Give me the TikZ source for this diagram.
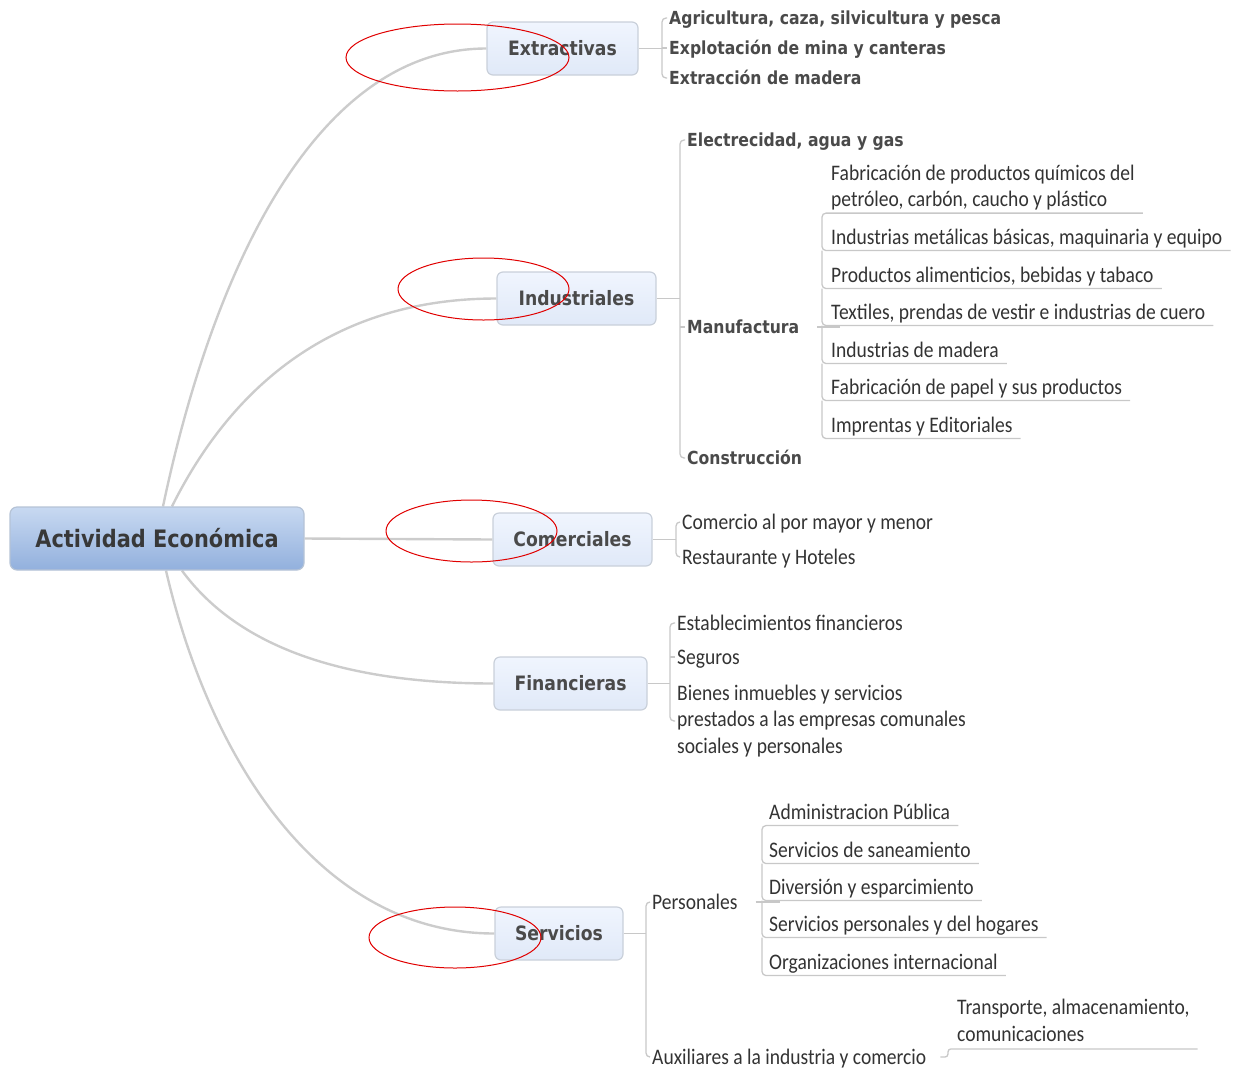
\documentclass[tikz,border=0pt]{standalone}
\usepackage{fontspec}
\setmainfont{Carlito}
\newfontfamily\vfont[FakeStretch=0.87]{DejaVu Sans}
\newfontfamily\leaffont[FakeStretch=0.88]{Carlito}
\usetikzlibrary{backgrounds}
\definecolor{lineC}{HTML}{CCCCCC}
\definecolor{brC}{HTML}{C8C8C8}
\definecolor{topicTop}{HTML}{F0F5FE}
\definecolor{topicBot}{HTML}{E0E9F8}
\definecolor{topicBorder}{HTML}{C9D0DA}
\definecolor{rootTop}{HTML}{C8D9F1}
\definecolor{rootBot}{HTML}{92B0DD}
\definecolor{rootBorder}{HTML}{B5C3D6}
\definecolor{txtBold}{HTML}{4A4A4A}
\definecolor{txtRoot}{HTML}{383838}
\definecolor{txtLeaf}{HTML}{333333}
\definecolor{markRed}{HTML}{E00000}
\tikzset{
  rootbox/.style={draw=rootBorder, line width=1.2pt, rounded corners=7pt,
    top color=rootTop, bottom color=rootBot, minimum width=294pt, minimum height=63pt,
    inner sep=0pt, font=\vfont\bfseries\fontsize{24}{28}\selectfont, text=txtRoot},
  topicbox/.style={draw=topicBorder, line width=1.2pt, rounded corners=6pt,
    top color=topicTop, bottom color=topicBot, minimum height=53pt,
    inner sep=0pt, font=\vfont\bfseries\fontsize{19.8}{24}\selectfont, text=txtBold},
  sublbl/.style={anchor=west, inner sep=0pt, font=\vfont\bfseries\fontsize{18}{22}\selectfont,
    text=txtBold, text height=13.1pt, text depth=0pt},
  leaf/.style={anchor=west, inner sep=0pt, font=\leaffont\fontsize{22.2}{26.8}\selectfont,
    text=txtLeaf, text height=14.3pt, text depth=0pt},
  leafml/.style={anchor=west, inner sep=0pt, font=\leaffont\fontsize{22.2}{26.8}\selectfont,
    text=txtLeaf, align=left},
  conn/.style={draw=lineC, line width=2.4pt},
  br/.style={draw=brC, line width=1.3pt, rounded corners=4pt},
  redmark/.style={draw=markRed, line width=1pt}
}
\begin{document}
\begin{tikzpicture}[x=1pt,y=-1pt]
\useasboundingbox (0,0) rectangle (1234,1069);

% central and main topics
\node[rootbox] (root) at (157,538.5) {Actividad Económica};
\node[topicbox, minimum width=151pt] (ext) at (562.5,48.5) {Extractivas};
\node[topicbox, minimum width=159pt] (ind) at (576.5,298.5) {Industriales};
\node[topicbox, minimum width=159pt] (com) at (572.5,539.5) {Comerciales};
\node[topicbox, minimum width=153pt] (fin) at (570.5,683.5) {Financieras};
\node[topicbox, minimum width=128pt] (ser) at (559,933.5) {Servicios};

% Extractivas
\node[sublbl] (e1) at (669,18) {Agricultura, caza, silvicultura y pesca};
\node[sublbl] (e2) at (669,48) {Explotación de mina y canteras};
\node[sublbl] (e3) at (669,78) {Extracción de madera};

% Industriales
\node[sublbl] (i1) at (687,140) {Electrecidad, agua y gas};
\node[sublbl] (i2) at (687,327) {Manufactura};
\node[sublbl] (i3) at (687,458) {Construcción};

\node[leafml] (m1) at (831,187.5) {Fabricación de productos químicos del\\petróleo, carbón, caucho y plástico};
\node[leaf] (m2) at (831,237) {Industrias metálicas básicas, maquinaria y equipo};
\node[leaf] (m3) at (831,275) {Productos alimenticios, bebidas y tabaco};
\node[leaf] (m4) at (831,312) {Textiles, prendas de vestir e industrias de cuero};
\node[leaf] (m5) at (831,350) {Industrias de madera};
\node[leaf] (m6) at (831,387) {Fabricación de papel y sus productos};
\node[leaf] (m7) at (831,425) {Imprentas y Editoriales};

% Comerciales
\node[leaf] (c1) at (682,522) {Comercio al por mayor y menor};
\node[leaf] (c2) at (682,557) {Restaurante y Hoteles};

% Financieras
\node[leaf] (f1) at (677,623) {Establecimientos financieros};
\node[leaf] (f2) at (677,657) {Seguros};
\node[leafml] (f3) at (677,721) {Bienes inmuebles y servicios\\prestados a las empresas comunales\\sociales y personales};

% Servicios
\node[leaf] (s1) at (652,902) {Personales};
\node[leaf] (s2) at (652,1057) {Auxiliares a la industria y comercio};

\node[leaf] (p1) at (769,812) {Administracion Pública};
\node[leaf] (p2) at (769,850) {Servicios de saneamiento};
\node[leaf] (p3) at (769,887) {Diversión y esparcimiento};
\node[leaf] (p4) at (769,924) {Servicios personales y del hogares};
\node[leaf] (p5) at (769,962) {Organizaciones internacional};

\node[leafml] (t1) at (957,1020.5) {Transporte, almacenamiento,\\comunicaciones};

% bracket coordinates
\coordinate (eb) at ([xshift=-7pt]e2.west);
\coordinate (ib) at ([xshift=-7pt]i2.west);
\coordinate (cb) at ([xshift=-6pt]c1.west);
\coordinate (fb) at ([xshift=-7pt]f2.west);
\coordinate (sb) at ([xshift=-6pt]s1.west);
\coordinate (mu1) at ([xshift=-9pt,yshift=-2.5pt]m1.south west);
\coordinate (mu2) at ([xshift=-9pt,yshift=-6.4pt]m2.base west);
\coordinate (mu3) at ([xshift=-9pt,yshift=-6.4pt]m3.base west);
\coordinate (mu4) at ([xshift=-9pt,yshift=-6.4pt]m4.base west);
\coordinate (mu5) at ([xshift=-9pt,yshift=-6.4pt]m5.base west);
\coordinate (mu6) at ([xshift=-9pt,yshift=-6.4pt]m6.base west);
\coordinate (mu7) at ([xshift=-9pt,yshift=-6.4pt]m7.base west);
\coordinate (pu1) at ([xshift=-7pt,yshift=-6.4pt]p1.base west);
\coordinate (pu2) at ([xshift=-7pt,yshift=-6.4pt]p2.base west);
\coordinate (pu3) at ([xshift=-7pt,yshift=-6.4pt]p3.base west);
\coordinate (pu4) at ([xshift=-7pt,yshift=-6.4pt]p4.base west);
\coordinate (pu5) at ([xshift=-7pt,yshift=-6.4pt]p5.base west);
\coordinate (tu) at ([xshift=-9pt,yshift=-7pt]t1.south west);

\begin{scope}[on background layer]
% main connectors
\draw[conn] ([xshift=6pt]root.north) .. controls (215,260) and (320,48.5) .. (ext.west);
\draw[conn] ([xshift=15pt]root.north) .. controls (230,390) and (330,298.5) .. (ind.west);
\draw[conn] (root.east) -- (com.west);
\draw[conn] ([xshift=25pt]root.south) .. controls (240,650) and (350,683.5) .. (fin.west);
\draw[conn] ([xshift=9pt]root.south) .. controls (210,760) and (320,933.5) .. (ser.west);
\end{scope}

% Extractivas bracket
\draw[br] (ext.east) -- (ext.east -| eb);
\draw[br] ([xshift=-2pt]e1.west) -| ([xshift=-7pt]e3.west) -- ([xshift=-2pt]e3.west);
\draw[br] (eb) -- ([xshift=-2pt]e2.west);

% Industriales bracket
\draw[br] (ind.east) -- (ind.east -| ib);
\draw[br] ([xshift=-2pt]i1.west) -| ([xshift=-7pt]i3.west) -- ([xshift=-2pt]i3.west);
\draw[br] (ib) -- ([xshift=-2pt]i2.west);

% Manufactura list
\draw[br] ([xshift=18pt]i2.east) -- ([xshift=18pt]i2.east -| mu1);
\draw[br] ([xshift=8pt]mu1 -| m1.east) -- (mu1) -- (mu2) -- ([xshift=8pt,yshift=-6.4pt]m2.base east);
\draw[br] (mu2) -- (mu3) -- ([xshift=8pt,yshift=-6.4pt]m3.base east);
\draw[br] (mu3) -- (mu4) -- ([xshift=8pt,yshift=-6.4pt]m4.base east);
\draw[br] (mu4) -- (mu5) -- ([xshift=8pt,yshift=-6.4pt]m5.base east);
\draw[br] (mu5) -- (mu6) -- ([xshift=8pt,yshift=-6.4pt]m6.base east);
\draw[br] (mu6) -- (mu7) -- ([xshift=8pt,yshift=-6.4pt]m7.base east);

% Comerciales bracket
\draw[br] (com.east) -- (com.east -| cb);
\draw[br] ([xshift=-2pt]c1.west) -| ([xshift=-6pt]c2.west) -- ([xshift=-2pt]c2.west);

% Financieras bracket
\draw[br] (fin.east) -- (fin.east -| fb);
\draw[br] ([xshift=-2pt]f1.west) -| ([xshift=-7pt]f3.west) -- ([xshift=-2pt]f3.west);
\draw[br] (fb) -- ([xshift=-2pt]f2.west);

% Servicios bracket
\draw[br] (ser.east) -- (ser.east -| sb);
\draw[br] ([xshift=-2pt]s1.west) -| ([xshift=-6pt]s2.west) -- ([xshift=-2pt]s2.west);

% Personales list
\draw[br] ([xshift=18pt]s1.east) -- ([xshift=18pt]s1.east -| pu1);
\draw[br] ([xshift=8pt,yshift=-6.4pt]p1.base east) -- (pu1) -- (pu2) -- ([xshift=8pt,yshift=-6.4pt]p2.base east);
\draw[br] (pu2) -- (pu3) -- ([xshift=8pt,yshift=-6.4pt]p3.base east);
\draw[br] (pu3) -- (pu4) -- ([xshift=8pt,yshift=-6.4pt]p4.base east);
\draw[br] (pu4) -- (pu5) -- ([xshift=8pt,yshift=-6.4pt]p5.base east);

% Auxiliares item
\draw[br, rounded corners=3pt] ([xshift=14pt]s2.east) -| (tu) -- ([xshift=8pt]tu -| t1.east);

% red marks
\draw[redmark] (457.5,57.5) ellipse [x radius=111.5pt, y radius=33.5pt];
\draw[redmark] (483.5,289) ellipse [x radius=85.5pt, y radius=31pt];
\draw[redmark] (471.5,531) ellipse [x radius=85.5pt, y radius=31pt];
\draw[redmark] (455,937.5) ellipse [x radius=86pt, y radius=30.5pt];
\end{tikzpicture}
\end{document}
